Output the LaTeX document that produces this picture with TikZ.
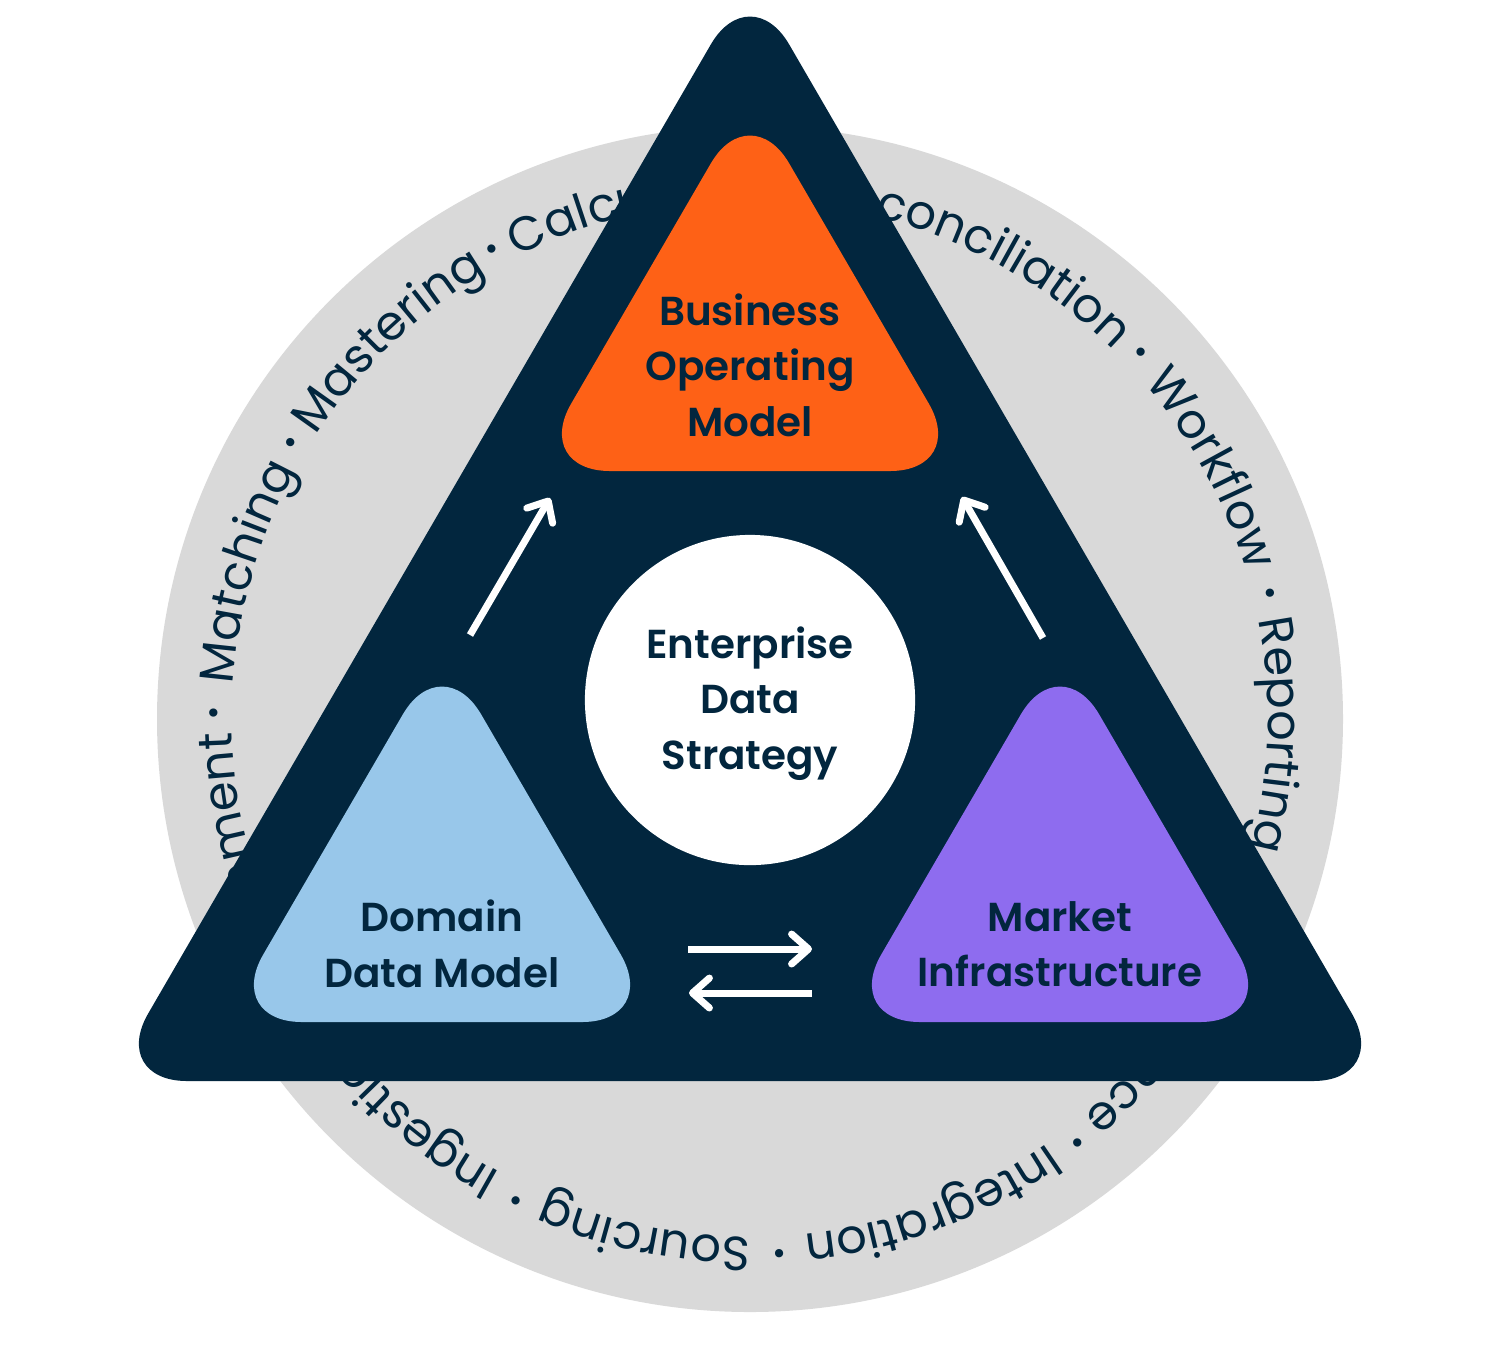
\documentclass[tikz,border=0pt]{standalone}
\usepackage{fontspec}
\usetikzlibrary{decorations.text,arrows.meta}
\newfontfamily\ringfont{Poppins}
\newfontfamily\lblfont{Poppins SemiBold}
\definecolor{navy}{RGB}{2,38,62}
\definecolor{ringgray}{RGB}{217,217,217}
\definecolor{orangefill}{RGB}{254,97,22}
\definecolor{bluefill}{RGB}{152,199,234}
\definecolor{purplefill}{RGB}{142,108,239}
\newcommand{\ringword}[2]{%
  \path[decorate, decoration={text along path,
      text={|\ringfont\fontsize{13.6}{16}\selectfont\color{navy}|#2},
      text align=center}]
    ({#1+30}:518) arc[start angle={#1+30}, end angle={#1-30}, radius=518];}
\newcommand{\ringdot}[1]{%
  \path[decorate, decoration={text along path,
      text={|\ringfont\fontsize{19}{20}\selectfont\color{navy}|·},
      text align=center, raise=-0.05cm}]
    ({#1+20}:518) arc[start angle={#1+20}, end angle={#1-20}, radius=518];}
\tikzset{
  lbl/.style={font=\lblfont\fontsize{11.5}{15.8}\selectfont, text=navy, align=center, inner sep=0pt},
  arr/.style={draw=white, line width=2pt, -{Straight Barb[round, length=4.8pt, width=8.5pt]}},
  tri/.style={rounded corners=0.78cm}
}
\begin{document}
\begin{tikzpicture}[x=0.01cm,y=0.01cm]
\useasboundingbox (0,0) rectangle (1500,-1350);
\fill[white] (0,0) rectangle (1500,-1350);
% gray ring
\fill[ringgray] (750,-719) circle[radius=593];
% ring text
\begin{scope}[shift={(750,-719)}]
  \ringword{258.4}{Sourcing}
  \ringdot{244.1}
  \ringword{229}{Ingestion}
  \ringdot{214}
  \ringword{196.5}{Enrichment}
  \ringdot{179.4}
  \ringword{163.7}{Matching}
  \ringdot{149}
  \ringword{133.7}{Mastering}
  \ringdot{118.8}
  \ringword{101.5}{Calculation}
  \ringdot{86}
  \ringword{64}{Reconciliation}
  \ringdot{43.2}
  \ringword{28.5}{Workflow}
  \ringdot{13.6}
  \ringword{-1.75}{Reporting}
  \ringdot{-16.5}
  \ringword{-33.7}{Governance}
  \ringdot{-52.3}
  \ringword{-69.5}{Integration}
  \ringdot{-86.8}
\end{scope}
% dark triangle
\fill[navy, tri] (750,-1081) -- (1391,-1081) -- (750,23) -- (109,-1081) -- cycle;
% inner triangles
\fill[orangefill, tri] (750,-471) -- (968,-471) -- (750,-96) -- (532,-471) -- cycle;
\fill[bluefill, tri] (442,-1022) -- (660,-1022) -- (442,-647) -- (224,-1022) -- cycle;
\fill[purplefill, tri] (1060,-1022) -- (1278,-1022) -- (1060,-647) -- (842,-1022) -- cycle;
% center circle
\node[circle, fill=white, minimum size=3.3cm, inner sep=0pt] (core) at (750,-700) {};
% labels
\node[lbl] (bom) at (750,-365) {Business\\Operating\\Model};
\node[lbl] (ddm) at (442,-944) {Domain\\Data Model};
\node[lbl] (mi) at (1060,-944) {Market\\Infrastructure};
\node[lbl] (eds) at (core.center) [yshift=-0.035cm] {Enterprise\\Data\\Strategy};
% arrows
\coordinate (l1) at (470,-635);
\coordinate (l2) at (550,-498);
\coordinate (r1) at (1043,-638);
\coordinate (r2) at (962,-497);
\coordinate (h1) at (688,-949);
\coordinate (h2) at (812,-949);
\coordinate (h3) at (812,-993);
\coordinate (h4) at (689,-993);
\draw[arr] (l1) -- (l2);
\draw[arr] (r1) -- (r2);
\draw[arr] (h1) -- (h2);
\draw[arr] (h3) -- (h4);
\end{tikzpicture}
\end{document}
